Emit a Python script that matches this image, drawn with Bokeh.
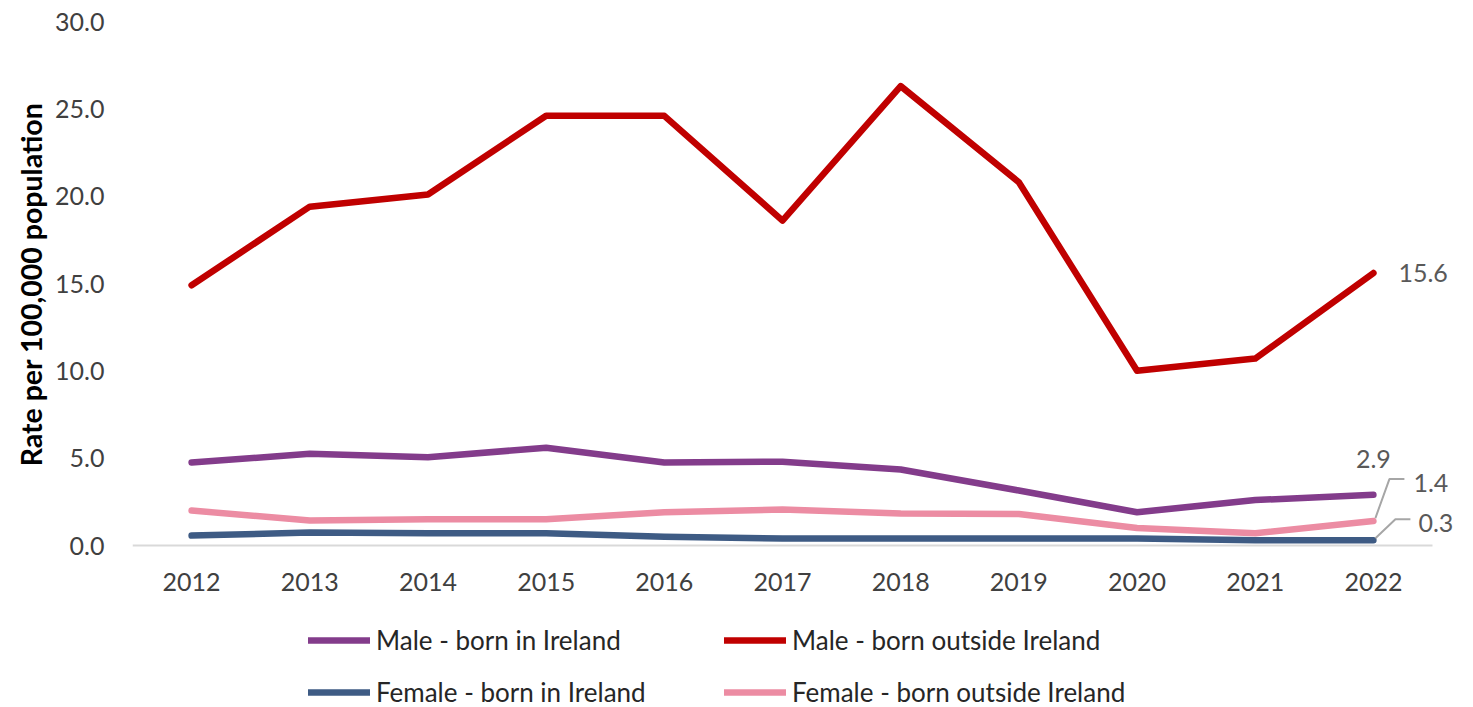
from bokeh.plotting import figure
from bokeh.layouts import column
from bokeh.models import Range1d, FixedTicker, Legend, LegendItem, PrintfTickFormatter
from bokeh.core.properties import value
from bokeh.embed import file_html
from bokeh.resources import INLINE

years = ["2012", "2013", "2014", "2015", "2016", "2017", "2018", "2019", "2020", "2021", "2022"]
male_in = [4.75, 5.25, 5.05, 5.6, 4.75, 4.8, 4.35, 3.15, 1.9, 2.6, 2.9]
male_out = [14.9, 19.4, 20.1, 24.6, 24.6, 18.6, 26.3, 20.8, 10.0, 10.7, 15.6]
female_in = [0.57, 0.74, 0.7, 0.7, 0.5, 0.4, 0.4, 0.4, 0.4, 0.3, 0.3]
female_out = [2.0, 1.43, 1.5, 1.5, 1.9, 2.06, 1.83, 1.8, 1.0, 0.7, 1.4]
y_ticks = [0, 5, 10, 15, 20, 25, 30]
series_names = ["Male - born in Ireland", "Female - born in Ireland",
                "Male - born outside Ireland", "Female - born outside Ireland"]

FONT = "Lato"
W, H1, H2 = 1473, 610, 97
CAT_PX = 118.18          # pixel width of one year slot
PX_PER_Y = 524 / 30.0    # pixels per y unit
Y_START = -2.0 / PX_PER_Y
X_END = len(years) + 31 / CAT_PX
BL, BT = 132, 21
FW = int(round(X_END * CAT_PX))
BR = W - BL - FW
BB = H1 - BT - int(round((30 - Y_START) * PX_PER_Y))

xs = [i + 0.5 for i in range(len(years))]

p = figure(width=W, height=H1, output_backend="svg", toolbar_location=None,
           x_range=Range1d(0, X_END), y_range=Range1d(Y_START, 30),
           min_border_left=BL, min_border_right=BR, min_border_top=BT, min_border_bottom=BB)
p.outline_line_color = None
p.xgrid.grid_line_color = None
p.ygrid.grid_line_color = None

p.xaxis.ticker = FixedTicker(ticks=xs)
p.xaxis.major_label_overrides = {x: y for x, y in zip(xs, years)}
p.xaxis.axis_line_color = None
p.xaxis.major_tick_line_color = None
p.xaxis.minor_tick_line_color = None
p.xaxis.major_label_text_font = FONT
p.xaxis.major_label_text_font_size = "25px"
p.xaxis.major_label_text_color = "#404040"
p.xaxis.major_label_standoff = 19

p.yaxis.ticker = FixedTicker(ticks=y_ticks)
p.yaxis.formatter = PrintfTickFormatter(format="%.1f")
p.yaxis.axis_line_color = None
p.yaxis.major_tick_line_color = None
p.yaxis.minor_tick_line_color = None
p.yaxis.major_label_text_font = FONT
p.yaxis.major_label_text_font_size = "25px"
p.yaxis.major_label_text_line_height = 1.0
p.yaxis.major_label_text_color = "#404040"
p.yaxis.major_label_standoff = 22
p.yaxis.axis_label = "Rate per 100,000 population"
p.yaxis.axis_label_text_font = FONT
p.yaxis.axis_label_text_font_size = "28.5px"
p.yaxis.axis_label_text_font_style = "bold"
p.yaxis.axis_label_text_color = "#000000"
p.yaxis.axis_label_standoff = 4

# baseline (x axis line) spanning the year slots
p.line([0, len(years)], [0, 0], line_color="#D9D9D9", line_width=2)

C_MI, C_MO, C_FI, C_FO = "#833C8B", "#C00000", "#3E5B84", "#EC8CA3"
LW = 6.5
STYLE = dict(line_width=LW, line_cap="round", line_join="round")
p.line(xs, female_in, line_color=C_FI, **STYLE)
p.line(xs, female_out, line_color=C_FO, **STYLE)
p.line(xs, male_in, line_color=C_MI, **STYLE)
p.line(xs, male_out, line_color=C_MO, **STYLE)

last = len(years) - 1

def leader(vals, offs):
    lx = [xs[last] + dx / CAT_PX for dx, dy in offs]
    ly = [vals[last] - dy / PX_PER_Y for dx, dy in offs]
    p.line(lx, ly, line_color="#A6A6A6", line_width=2)

leader(female_out, [(2, -3), (16, -42), (31, -42)])
leader(female_in, [(2, -2), (22, -21), (37, -21)])

def label(vals, dx, dy, align):
    p.text([xs[last]], [vals[last]], text=[f"{vals[last]:.1f}"], x_offset=dx, y_offset=dy,
           text_align=align, text_baseline="middle", text_font=value(FONT),
           text_font_size="25px", text_color="#595959")

label(male_out, 25, 0, "left")
label(male_in, 0, -36, "center")
label(female_out, 40, -38, "left")
label(female_in, 45, -17, "left")

# legend strip below the chart (its lines lie outside its visible range)
q = figure(width=W, height=H2, output_backend="svg", toolbar_location=None,
           x_axis_type=None, y_axis_type=None,
           x_range=Range1d(-3, -2), y_range=Range1d(-3, -2),
           min_border_left=BL, min_border_right=BR, min_border_top=0, min_border_bottom=0)
q.outline_line_color = None
q.xgrid.grid_line_color = None
q.ygrid.grid_line_color = None
lr = {
    C_MI: q.line(xs, male_in, line_color=C_MI, **STYLE),
    C_FI: q.line(xs, female_in, line_color=C_FI, **STYLE),
    C_MO: q.line(xs, male_out, line_color=C_MO, **STYLE),
    C_FO: q.line(xs, female_out, line_color=C_FO, **STYLE),
}

def mk_legend(names, colors, x):
    return Legend(items=[LegendItem(label=n, renderers=[lr[c]]) for n, c in zip(names, colors)],
                  location=(x, -1), orientation="vertical",
                  padding=0, margin=0, border_line_alpha=0, background_fill_alpha=0,
                  glyph_width=62, glyph_height=22, label_height=22, label_standoff=6,
                  spacing=20, label_text_font=FONT, label_text_font_size="26px",
                  label_text_color="#262626", label_text_baseline="middle")

q.add_layout(mk_legend(series_names[:2], [C_MI, C_FI], 176), "center")
q.add_layout(mk_legend(series_names[2:], [C_MO, C_FO], 592), "center")

open("out.html", "w").write(file_html(column(p, q, spacing=0), INLINE))
